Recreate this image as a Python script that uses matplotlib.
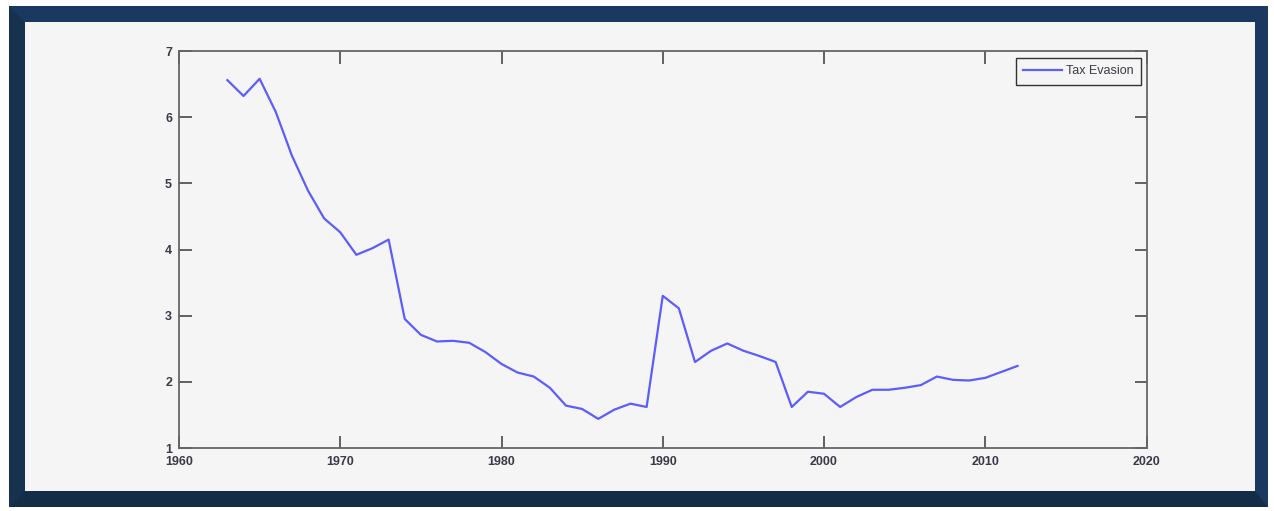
import matplotlib
matplotlib.use("Agg")
import matplotlib.pyplot as plt
from matplotlib.patches import Rectangle, Polygon

years = list(range(1963, 2013))
tax_evasion = [
    6.56, 6.32, 6.58, 6.08, 5.42, 4.89, 4.47, 4.26, 3.92, 4.02,
    4.15, 2.95, 2.71, 2.61, 2.62, 2.59, 2.45, 2.27, 2.14, 2.08,
    1.91, 1.64, 1.59, 1.44, 1.58, 1.67, 1.62, 3.30, 3.11, 2.30,
    2.47, 2.58, 2.47, 2.39, 2.30, 1.62, 1.85, 1.82, 1.62, 1.77,
    1.88, 1.88, 1.91, 1.95, 2.08, 2.03, 2.02, 2.06, 2.15, 2.24,
]
x_ticks = [1960, 1970, 1980, 1990, 2000, 2010, 2020]
y_ticks = [1, 2, 3, 4, 5, 6, 7]

W, H = 1274, 511
fig = plt.figure(figsize=(W / 100, H / 100), dpi=100)
fig.patch.set_facecolor("white")


def px_rect(x0, y0, x1, y1, color, z=0):
    # rectangle given in pixel coordinates measured from the top-left corner
    fig.patches.append(Rectangle((x0 / W, 1 - y1 / H), (x1 - x0) / W, (y1 - y0) / H,
                                 transform=fig.transFigure, facecolor=color,
                                 edgecolor="none", zorder=z))


def px_poly(pts, color, z=0):
    fig.patches.append(Polygon([(x / W, 1 - y / H) for x, y in pts],
                               closed=True, transform=fig.transFigure,
                               facecolor=color, edgecolor="none", zorder=z))


# navy bevelled frame behind the axes
navy = "#1b3960"
px_rect(9, 6, 1268, 507, navy, -3)
px_poly([(9, 6), (25, 22), (25, 491), (9, 507)], "#17324f", -2.5)        # left bevel
px_poly([(9, 507), (25, 491), (1255, 491), (1268, 507)], "#142c47", -2.5)  # bottom bevel
px_rect(25, 22, 1255, 491, "#f5f5f5", -2)

ax = fig.add_axes([179 / W, 63 / H, 967.5 / W, 397 / H])
ax.set_zorder(5)
ax.set_facecolor("#f5f5f5")
ax.plot(years, tax_evasion, color="#5c5cff", linewidth=1.6, label="Tax Evasion")

ax.set_xlim(1960, 2020)
ax.set_ylim(1, 7)
ax.set_xticks(x_ticks)
ax.set_yticks(y_ticks)
for s in ax.spines.values():
    s.set_color("#666666")
    s.set_linewidth(1.3)
ax.tick_params(direction="in", length=9, width=1.3, color="#555555",
               top=True, right=True, labelsize=9, labelcolor="#3a3a48")
ax.tick_params(axis="x", pad=6)
ax.tick_params(axis="y", pad=5)
for lbl in ax.get_xticklabels() + ax.get_yticklabels():
    lbl.set_fontfamily("Liberation Sans")
    lbl.set_fontweight("bold")

leg = ax.legend(loc="upper right", bbox_to_anchor=(0.9943, 0.9824), borderaxespad=0,
                fancybox=False, framealpha=1, facecolor="#f5f5f5", edgecolor="#333333",
                handlelength=3.1, handletextpad=0.3, borderpad=0.6,
                prop={"family": "Liberation Sans", "size": 9})
leg.get_frame().set_linewidth(1.0)
for t in leg.get_texts():
    t.set_color("#3a3a48")

fig.savefig("out.png", dpi=100)
